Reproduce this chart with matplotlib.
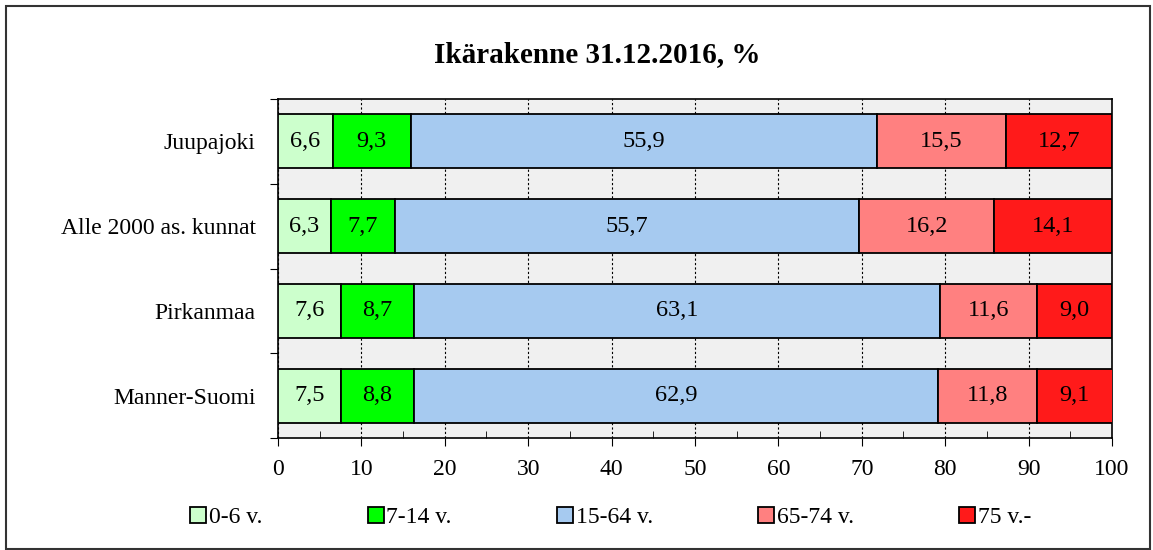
import matplotlib.pyplot as plt
from matplotlib.patches import Rectangle
from matplotlib.lines import Line2D
from matplotlib.ticker import MultipleLocator

plt.rcParams['font.family'] = ['Liberation Serif', 'DejaVu Serif']

regions = ['Juupajoki', 'Alle 2000 as. kunnat', 'Pirkanmaa', 'Manner-Suomi']
groups = ['0-6 v.', '7-14 v.', '15-64 v.', '65-74 v.', '75 v.-']
values = [
    [6.6, 9.3, 55.9, 15.5, 12.7],
    [6.3, 7.7, 55.7, 16.2, 14.1],
    [7.6, 8.7, 63.1, 11.6, 9.0],
    [7.5, 8.8, 62.9, 11.8, 9.1],
]
colors = ['#ccffcc', '#00ff00', '#a6caf0', '#ff8080', '#ff1a1a']

fig = plt.figure(figsize=(11.53, 5.5), dpi=100)
ax = fig.add_axes([0.2411, 0.2036, 0.7233, 0.6164])
ax.set_facecolor('#f0f0f0')

ypos = list(range(len(regions)))[::-1]
for i, reg in enumerate(regions):
    left = 0
    for j, v in enumerate(values[i]):
        ax.barh(ypos[i], v, left=left, height=0.64, color=colors[j],
                edgecolor='black', linewidth=1.3, zorder=3)
        ax.text(left + v / 2, ypos[i], f'{v:.1f}'.replace('.', ','),
                ha='center', va='center', fontsize=17.5, zorder=4)
        left += v

ax.set_xlim(0, 100)
ax.set_ylim(-0.5, len(regions) - 0.5)
ax.xaxis.set_major_locator(MultipleLocator(10))
ax.xaxis.set_minor_locator(MultipleLocator(5))
ax.grid(axis='x', which='major', color='black', linestyle=(0, (2, 2)), linewidth=0.8, zorder=1)
ax.tick_params(axis='x', which='major', direction='out', length=6, labelsize=17, pad=9)
ax.tick_params(axis='x', which='minor', direction='in', length=5)
ax.set_yticks([y - 0.5 for y in range(len(regions) + 1)], minor=False)
ax.set_yticklabels([])
ax.set_yticks(ypos, minor=True)
ax.set_yticklabels(regions, minor=True)
ax.tick_params(axis='y', which='major', direction='out', length=6)
ax.tick_params(axis='y', which='minor', length=0, labelsize=17, pad=16)
for s in ax.spines.values():
    s.set_linewidth(1.2)

fig.text(0.518, 0.9, 'Ikärakenne 31.12.2016, %', ha='center', va='center',
         fontsize=21, fontweight='bold')

handles = [Line2D([], [], marker='s', linestyle='none', markersize=12,
                  markerfacecolor=c, markeredgecolor='black', markeredgewidth=1.3)
           for c in colors]
fig.legend(handles, groups, loc='center', bbox_to_anchor=(0.529, 0.06), ncol=5,
           frameon=False, fontsize=17, handletextpad=0.05, columnspacing=4.4,
           handlelength=0.8)

fig.add_artist(Rectangle((0.005, 0.002), 0.992, 0.987, transform=fig.transFigure,
                         fill=False, edgecolor='#333333', linewidth=1.5))

fig.savefig('out.png', dpi=100)
